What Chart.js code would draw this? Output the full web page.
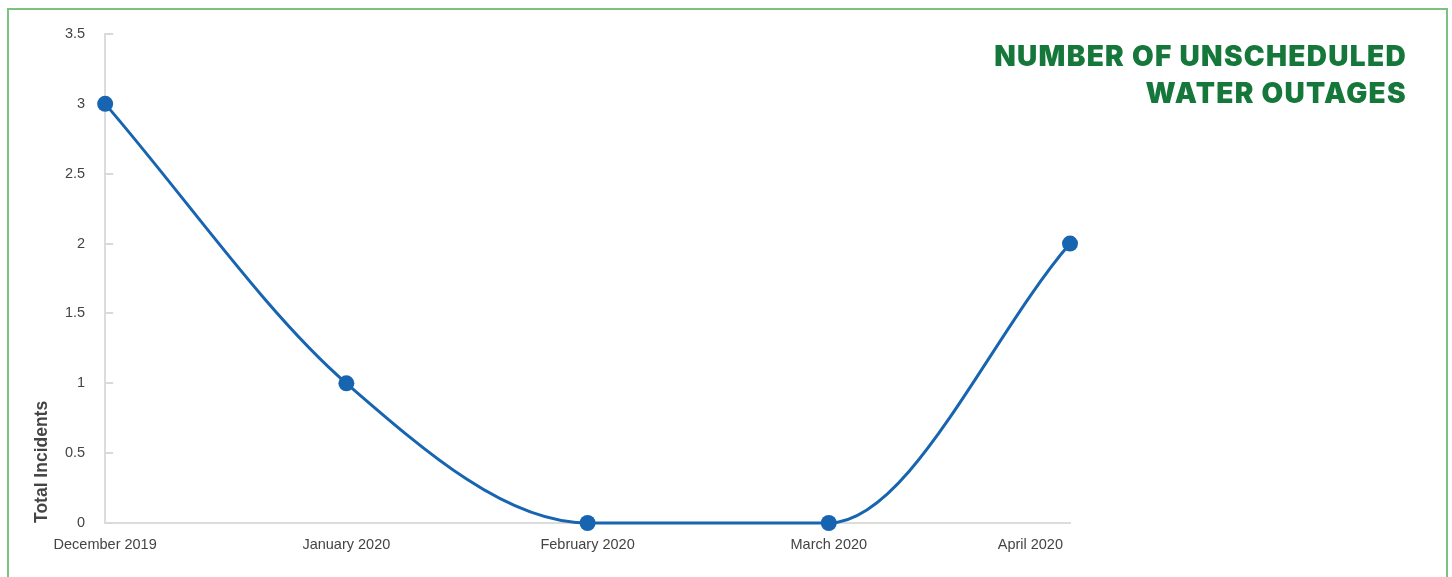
<!DOCTYPE html>
<html>
<head>
<meta charset="utf-8">
<script src="https://cdn.jsdelivr.net/npm/chart.js@4.4.1/dist/chart.umd.min.js"></script>
<style>
  html, body { margin: 0; padding: 0; background: #fff; }
  #wrap { position: relative; width: 1452px; height: 577px; overflow: hidden; }
  #frame { position: absolute; left: 7px; top: 8px; width: 1441px; height: 600px;
           border: 2px solid #7cc27e; box-sizing: border-box; pointer-events: none; }
  #chart { position: absolute; left: 0; top: 0; }
  #title { position: absolute; right: 45px; top: 38px; text-align: right;
           font-family: Inter, "Open Sans", sans-serif; font-weight: 900;
           font-size: 28px; line-height: 37px; color: #15773a; letter-spacing: 1.3px; }
</style>
</head>
<body>
<div id="wrap">
  <canvas id="chart" width="1452" height="577"></canvas>
  <div id="frame"></div>
  <div id="title">NUMBER OF UNSCHEDULED<br>WATER OUTAGES</div>
</div>
<script>
const months = ['December 2019', 'January 2020', 'February 2020', 'March 2020', 'April 2020'];
const incidents = [3, 1, 0, 0, 2];
const yTicks = [0, 0.5, 1, 1.5, 2, 2.5, 3, 3.5];

const labelFont = '14.5px "Liberation Sans", Arial, sans-serif';
const labelColor = '#444';

// Short tick marks just inside the y axis (under the line), and the month labels
// under the x axis (the last month label is tucked in so it ends at the plot edge)
const axisDecor = {
  id: 'axisDecor',
  beforeDatasetsDraw(chart) {
    const { ctx, scales: { y } } = chart;
    ctx.save();
    ctx.strokeStyle = '#d9d9d9';
    ctx.lineWidth = 2;
    yTicks.forEach(v => {
      const py = Math.round(y.getPixelForValue(v));
      ctx.beginPath();
      ctx.moveTo(y.right, py);
      ctx.lineTo(y.right + 8, py);
      ctx.stroke();
    });
    ctx.restore();
  },
  afterDraw(chart) {
    const { ctx, scales: { x } } = chart;
    ctx.save();
    ctx.font = labelFont;
    ctx.fillStyle = labelColor;
    ctx.textBaseline = 'top';
    months.forEach((m, i) => {
      let px = x.getPixelForValue(i);
      if (i === months.length - 1) {
        ctx.textAlign = 'right';
        px -= 7;
      } else {
        ctx.textAlign = 'center';
      }
      ctx.fillText(m, px, x.top + 15);
    });
    ctx.restore();
  }
};

new Chart(document.getElementById('chart'), {
  type: 'line',
  data: {
    labels: months,
    datasets: [{
      data: incidents,
      borderColor: '#1764b0',
      backgroundColor: '#1764b0',
      borderWidth: 3,
      pointRadius: 8,
      pointHoverRadius: 8,
      pointBackgroundColor: '#1764b0',
      pointBorderWidth: 0,
      cubicInterpolationMode: 'monotone',
      clip: false,
      fill: false
    }]
  },
  options: {
    responsive: false,
    animation: false,
    layout: { padding: { left: 32, right: 382, top: 34, bottom: 54 } },
    plugins: { legend: { display: false }, tooltip: { enabled: false } },
    scales: {
      x: {
        offset: false,
        grid: { display: false, drawTicks: false },
        border: { display: true, color: '#dcdcdc', width: 2 },
        ticks: { display: false }
      },
      y: {
        min: 0, max: 3.5,
        afterBuildTicks(axis) { axis.ticks = yTicks.map(v => ({ value: v })); },
        grid: { display: false, drawTicks: false },
        border: { display: true, color: '#dcdcdc', width: 2 },
        ticks: { padding: 20, color: labelColor,
                 callback: v => String(v),
                 font: { family: '"Liberation Sans", Arial, sans-serif', size: 14.5 } },
        title: { display: true, text: 'Total Incidents', align: 'start', color: labelColor,
                 padding: { top: 0, bottom: -8 },
                 font: { family: '"Liberation Sans", Arial, sans-serif', size: 17.5, weight: 'bold' } }
      }
    }
  },
  plugins: [axisDecor]
});
</script>
</body>
</html>
